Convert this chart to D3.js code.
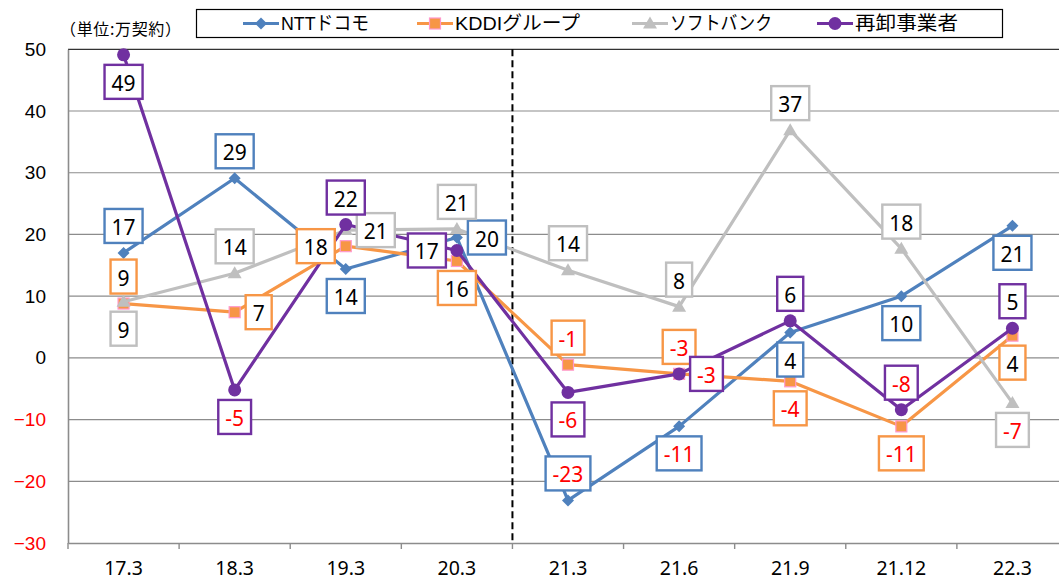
<!DOCTYPE html>
<html><head><meta charset="utf-8">
<script src="https://cdn.jsdelivr.net/npm/d3@7"></script>
<style>
html,body{margin:0;padding:0;background:#fff;}
svg{display:block;}
</style></head>
<body>
<svg id="chart" width="1059" height="580"></svg>
<script>
// ---- data ----
const categories = ["17.3","18.3","19.3","20.3","21.3","21.6","21.9","21.12","22.3"];
const yTicks = [-30,-20,-10,0,10,20,30,40,50];
const unitLabel = "（単位:万契約）";
const seriesNames = ["NTTドコモ","KDDIグループ","ソフトバンク","再卸事業者"];
const docomo   = [17.0, 29.1, 14.4, 19.5, -23.1, -11.1, 4.1, 10.0, 21.4];
const kddi     = [8.8, 7.4, 18.1, 15.7, -1.1, -2.6, -3.8, -11.1, 3.6];
const softbank = [9.1, 13.7, 20.7, 20.9, 14.2, 8.3, 36.9, 17.7, -7.3];
const resellers= [49.1, -5.2, 21.6, 17.4, -5.6, -2.6, 6.0, -8.4, 4.8];
const dividerAfter = "20.3";

// label placements (styling)
const place = [
  ["t","t","b","r","t","b","b","b","b"],
  ["t","r","l","b","t","t","b","b","b"],
  ["b","t","r","t","t","t","t","t","b"],
  ["b","b","t","l","b","r","t","t","t"]
];
const colors = ["#4F81BD","#F79646","#BFBFBF","#7030A0"];
const markers = ["diamond","square","triangle","circle"];
const values = [docomo,kddi,softbank,resellers];

const svg = d3.select("#chart");
const pL = 68, pR = 1068, pT = 49.3, pB = 543;
const x = d3.scaleBand().domain(categories).range([pL,pR]).padding(0);
const y = d3.scaleLinear().domain([-30,50]).range([pB,pT]);
const cx = c => x(c) + x.bandwidth()/2;

// gridlines
svg.append("g").selectAll("line").data(yTicks.filter(t=>t>-30 && t<50)).join("line")
  .attr("x1",pL).attr("x2",1059).attr("y1",d=>y(d)).attr("y2",d=>y(d))
  .attr("stroke","#8c8c8c").attr("stroke-width",1.2);
// top border
svg.append("line").attr("x1",pL).attr("x2",1059).attr("y1",y(50)).attr("y2",y(50))
  .attr("stroke","#333").attr("stroke-width",1.2);

// y axis
const yAxis = svg.append("g").attr("transform",`translate(${pL},0)`)
  .call(d3.axisLeft(y).tickValues(yTicks).tickSize(0).tickPadding(22));
yAxis.select(".domain").attr("stroke","#8c8c8c").attr("stroke-width",1.6);
yAxis.selectAll("text").attr("font-family","'Liberation Sans', Arial, sans-serif")
  .attr("font-size",19).attr("fill",d=>d<0?"#FF0000":"#000");

// x axis
const xAxis = svg.append("g").attr("transform",`translate(0,${pB})`)
  .call(d3.axisBottom(x).tickSize(0).tickPadding(0));
xAxis.select(".domain").attr("stroke","#8c8c8c").attr("stroke-width",1.6);
xAxis.selectAll("text").attr("font-family","'Noto Sans', sans-serif")
  .attr("font-size",19.5).attr("fill","#000").attr("dy",null).attr("y",32);
// boundary ticks
svg.append("g").selectAll("line").data(categories).join("line")
  .attr("x1",d=>x(d)).attr("x2",d=>x(d)).attr("y1",pB).attr("y2",pB+6)
  .attr("stroke","#8c8c8c").attr("stroke-width",1.4);

// divider
const dx = x(dividerAfter)+x.bandwidth();
svg.append("line").attr("x1",dx).attr("x2",dx).attr("y1",pT).attr("y2",pB)
  .attr("stroke","#000").attr("stroke-width",2).attr("stroke-dasharray","7,4");

// markers
function drawMarker(g, type, col, px, py){
  if(type==="diamond"){
    g.append("path").attr("d",`M${px},${py-6}L${px+6},${py}L${px},${py+6}L${px-6},${py}Z`).attr("fill",col);
  } else if(type==="square"){
    g.append("rect").attr("x",px-5.5).attr("y",py-5.5).attr("width",11).attr("height",11)
      .attr("fill",col).attr("stroke","#FF99CC").attr("stroke-width",1.2);
  } else if(type==="triangle"){
    g.append("path").attr("d",`M${px},${py-7}L${px+7},${py+5}L${px-7},${py+5}Z`).attr("fill",col);
  } else {
    g.append("circle").attr("cx",px).attr("cy",py).attr("r",6.5).attr("fill",col);
  }
}

const line = d3.line().x((d,i)=>cx(categories[i])).y(d=>y(d));
values.forEach((vals,si)=>{
  const g = svg.append("g");
  g.append("path").datum(vals).attr("d",line).attr("fill","none")
    .attr("stroke",colors[si]).attr("stroke-width",3.2).attr("stroke-linejoin","round");
  vals.forEach((v,i)=>drawMarker(g, markers[si], colors[si], cx(categories[i]), y(v)));
});

// data labels
const lg = svg.append("g");
values.forEach((vals,si)=>{
  vals.forEach((v,i)=>{
    const lab = Math.round(v);
    const px = cx(categories[i]), py = y(v);
    const g = lg.append("g");
    const rect = g.append("rect");
    const t = g.append("text").text(lab)
      .attr("font-family","'Noto Sans', sans-serif").attr("font-size",21)
      .attr("text-anchor","middle").attr("dominant-baseline","central")
      .attr("fill", lab<0 ? "#FF0000" : "#000");
    const w = t.node().getComputedTextLength() + 14, h = 34;
    let bx = px, by = py;
    const p = place[si][i];
    if(p==="t") by = py - 27;
    else if(p==="b") by = py + 27;
    else if(p==="r") bx = px + w/2 + 11;
    else if(p==="l") bx = px - w/2 - 11;
    t.attr("x",bx).attr("y",by+1);
    rect.attr("x",bx-w/2).attr("y",by-h/2).attr("width",w).attr("height",h)
      .attr("fill","#fff").attr("stroke",colors[si]).attr("stroke-width",2.4);
  });
});

// unit label
svg.append("text").attr("x",60).attr("y",28).attr("dominant-baseline","central").text(unitLabel)
  .attr("font-family","'Noto Sans CJK JP', sans-serif").attr("font-size",16)
  .attr("textLength",121).attr("lengthAdjust","spacing").attr("fill","#000");

// legend
const leg = svg.append("g");
leg.append("rect").attr("x",196.5).attr("y",9.5).attr("width",806).attr("height",28)
  .attr("fill","#fff").attr("stroke","#000").attr("stroke-width",1.2);
const legX = [243, 417, 632, 817];
const legW = [88, 125, 102, 103];
seriesNames.forEach((n,si)=>{
  const lx = legX[si], ly = 23.5;
  leg.append("line").attr("x1",lx).attr("x2",lx+36).attr("y1",ly).attr("y2",ly)
    .attr("stroke",colors[si]).attr("stroke-width",3.2);
  drawMarker(leg, markers[si], colors[si], lx+18, ly);
  leg.append("text").attr("x",lx+38).attr("y",ly).attr("dominant-baseline","central")
    .text(n).attr("font-family","'Liberation Sans','Noto Sans CJK JP', sans-serif")
    .attr("font-size",19).attr("textLength",legW[si]).attr("lengthAdjust","spacingAndGlyphs")
    .attr("fill","#000");
});
</script>
</body></html>
